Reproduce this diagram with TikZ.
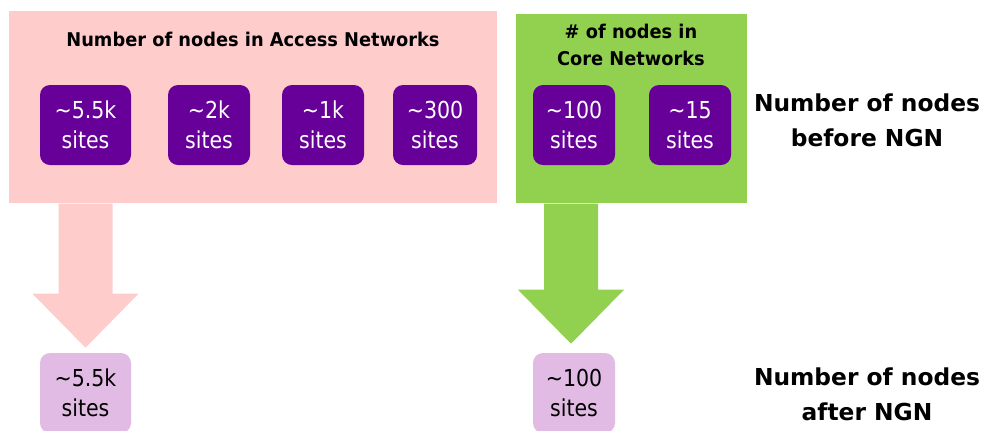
\documentclass[tikz,border=0pt]{standalone}
\usepackage{fontspec}
\setmainfont{DejaVu Sans}
\newfontfamily\sitefont{DejaVu Sans}[FakeStretch=0.88]
\newfontfamily\headfont{DejaVu Sans}[FakeStretch=0.94]
\usetikzlibrary{positioning, calc}
\definecolor{ngnpink}{HTML}{FFCCCC}
\definecolor{ngngreen}{HTML}{92D050}
\definecolor{ngnpurple}{HTML}{660099}
\definecolor{ngnlilac}{HTML}{E1BBE3}

\begin{document}
\begin{tikzpicture}[
  x=0.75pt, y=-0.75pt,
  panel/.style={draw=none, inner sep=0pt, anchor=north west},
  head/.style={font=\headfont\bfseries\fontsize{14.2}{20}\selectfont, align=center, inner sep=0pt},
  site/.style={fill=ngnpurple, text=white, rounded corners=7.5pt, align=center,
               inner sep=0pt, minimum height=60pt,
               font=\sitefont\fontsize{17.5}{22.5}\selectfont},
  after/.style={site, fill=ngnlilac, text=black},
  side/.style={font=\bfseries\fontsize{17.5}{26}\selectfont, align=center, inner sep=0pt},
]
\useasboundingbox (0,0) rectangle (982,430);

% ----- panels -----
\node[panel, fill=ngnpink, minimum width=366pt, minimum height=144pt] (accpanel) at (9,11) {};
\node[panel, fill=ngngreen, minimum width=173.25pt, minimum height=141.75pt] (corepanel) at (516,14) {};
\node[head] (acctitle) at (253,39) {Number of nodes in Access Networks};
\node[head] (coretitle) at (631,45) {\# of nodes in\\Core Networks};

% ----- sites before NGN -----
\node[site, minimum width=68.25pt] (a1) at (85.5,125) {\textasciitilde 5.5k\\sites};
\node[site, minimum width=61.5pt] (a2) at (209,125) {\textasciitilde 2k\\sites};
\node[site, minimum width=61.5pt] (a3) at (323,125) {\textasciitilde 1k\\sites};
\node[site, minimum width=63pt] (a4) at (435,125) {\textasciitilde 300\\sites};
\node[site, minimum width=61.5pt] (c1) at (574,125) {\textasciitilde 100\\sites};
\node[site, minimum width=61.5pt] (c2) at (690,125) {\textasciitilde 15\\sites};

% ----- sites after NGN -----
\node[after, minimum width=68.25pt] (n1) at (85.5,393) {\textasciitilde 5.5k\\sites};
\node[after, minimum width=61.5pt] (n2) at (574,393) {\textasciitilde 100\\sites};

% ----- block arrows -----
\coordinate (top1) at (accpanel.south -| n1.north);
\coordinate (top2) at ($(corepanel.south -| n2.north)+(-3,0)$);
\foreach \i/\col/\gap in {1/ngnpink/5, 2/ngngreen/9} {
  \coordinate (tip\i) at ($(top\i |- n\i.north)+(0,-\gap)$);
  \fill[\col] ($(top\i)+(-27,0)$) -- ($(tip\i)+(-27,-54)$) -- ($(tip\i)+(-53,-54)$)
    -- (tip\i) -- ($(tip\i)+(53,-54)$) -- ($(tip\i)+(27,-54)$) -- ($(top\i)+(27,0)$) -- cycle;
}

% ----- side labels -----
\node[side] (before) at (867,120) {Number of nodes\\before NGN};
\node[side] (afterlbl) at (867,394) {Number of nodes\\after NGN};
\end{tikzpicture}
\end{document}
